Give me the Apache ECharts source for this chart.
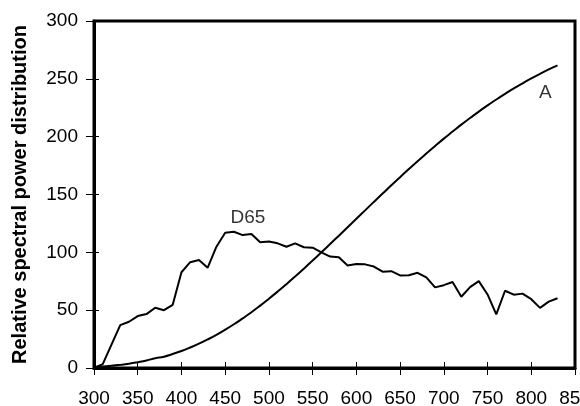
<!DOCTYPE html>
<html><head><meta charset="utf-8">
<script src="https://cdn.jsdelivr.net/npm/echarts@6/dist/echarts.min.js"></script>
<style>html,body{margin:0;padding:0;background:#fff}#c{width:580px;height:406px}</style>
</head><body><div id="c"></div>
<script>
var wavelengths = [300,310,320,330,340,350,360,370,380,390,400,410,420,430,440,450,460,470,480,490,500,510,520,530,540,550,560,570,580,590,600,610,620,630,640,650,660,670,680,690,700,710,720,730,740,750,760,770,780,790,800,810,820,830];
var d65 = [0.0,3.3,20.2,37.1,40.0,44.9,46.6,52.1,50.0,54.6,82.8,91.5,93.4,86.7,104.9,117.0,117.8,114.9,115.9,108.8,109.4,107.8,104.8,107.7,104.4,104.0,100.0,96.3,95.8,88.7,90.0,89.6,87.7,83.3,83.7,80.0,80.2,82.3,78.3,69.7,71.6,74.3,61.6,69.9,75.1,63.6,46.4,66.8,63.4,64.3,59.5,52.0,57.4,60.3];
var illumA = [0.9,1.4,1.9,2.7,3.7,5.0,6.5,8.4,9.8,12.1,14.7,17.7,21.0,24.7,28.7,33.1,37.8,42.9,48.2,53.9,59.9,66.1,72.5,79.1,85.9,92.9,100.0,107.2,114.4,121.7,129.0,136.3,143.6,150.8,158.0,165.0,172.0,178.8,185.4,191.9,198.3,204.4,210.4,216.1,221.7,227.0,232.1,237.0,241.7,246.1,250.3,254.3,258.1,261.6];
var curveLabels = [{name:'D65', coord:[476,130]}, {name:'A', coord:[816,238]}];
var xTicks = {min:300, max:850, interval:50};
var yTicks = {min:0, max:300, interval:50};
var yTitle = 'Relative spectral power distribution';

function zip(x, y){ return x.map(function(v,i){return [v, y[i]];}); }
var font = 'Liberation Sans, Arial, sans-serif';
var chart = echarts.init(document.getElementById('c'), null, {renderer:'canvas'});
chart.setOption({
  animation:false,
  grid:{left:94, right:5, top:21, bottom:38, containLabel:false, outerBoundsMode:'none',
        show:true, borderWidth:3, borderColor:'#000', backgroundColor:'transparent'},
  xAxis:[{type:'value', min:xTicks.min, max:xTicks.max, interval:xTicks.interval,
    axisLine:{show:true, onZero:false, lineStyle:{color:'#000', width:3}},
    axisTick:{show:true, inside:false, length:7, lineStyle:{color:'#000', width:1}},
    axisLabel:{color:'#000', fontSize:19, fontFamily:font, margin:21, showMaxLabel:true, hideOverlap:false},
    splitLine:{show:false}},
   {type:'value', min:xTicks.min, max:xTicks.max, interval:xTicks.interval, position:'bottom',
    axisLine:{show:false}, axisLabel:{show:false}, splitLine:{show:false},
    axisTick:{show:true, inside:true, length:6, lineStyle:{color:'#000', width:1}}}],
  yAxis:[{type:'value', min:yTicks.min, max:yTicks.max, interval:yTicks.interval,
    name:yTitle, nameLocation:'middle', nameGap:64, nameRotate:90,
    nameTextStyle:{color:'#000', fontSize:20, fontWeight:'bold', fontFamily:font},
    axisLine:{show:true, onZero:false, lineStyle:{color:'#000', width:3}},
    axisTick:{show:true, inside:false, length:8, lineStyle:{color:'#000', width:1}},
    axisLabel:{color:'#000', fontSize:19, fontFamily:font, margin:16},
    splitLine:{show:false}},
   {type:'value', min:yTicks.min, max:yTicks.max, interval:yTicks.interval, position:'left',
    axisLine:{show:false}, axisLabel:{show:false}, splitLine:{show:false},
    axisTick:{show:true, inside:true, length:5, lineStyle:{color:'#000', width:1}}}],
  series:[
    {type:'line', name:'D65', data:zip(wavelengths, d65), showSymbol:false, smooth:false,
     lineStyle:{color:'#000', width:2}},
    {type:'line', name:'A', data:zip(wavelengths, illumA), showSymbol:false, smooth:true,
     lineStyle:{color:'#000', width:2}},
    {type:'scatter', name:'labels', data:curveLabels.map(function(p){return {value:p.coord, name:p.name};}),
     symbol:'circle', symbolSize:1, itemStyle:{color:'rgba(0,0,0,0)'}, silent:true,
     label:{show:true, position:'inside', formatter:'{b}', color:'#000', fontSize:19, fontFamily:font}}
  ]
});
</script></body></html>
